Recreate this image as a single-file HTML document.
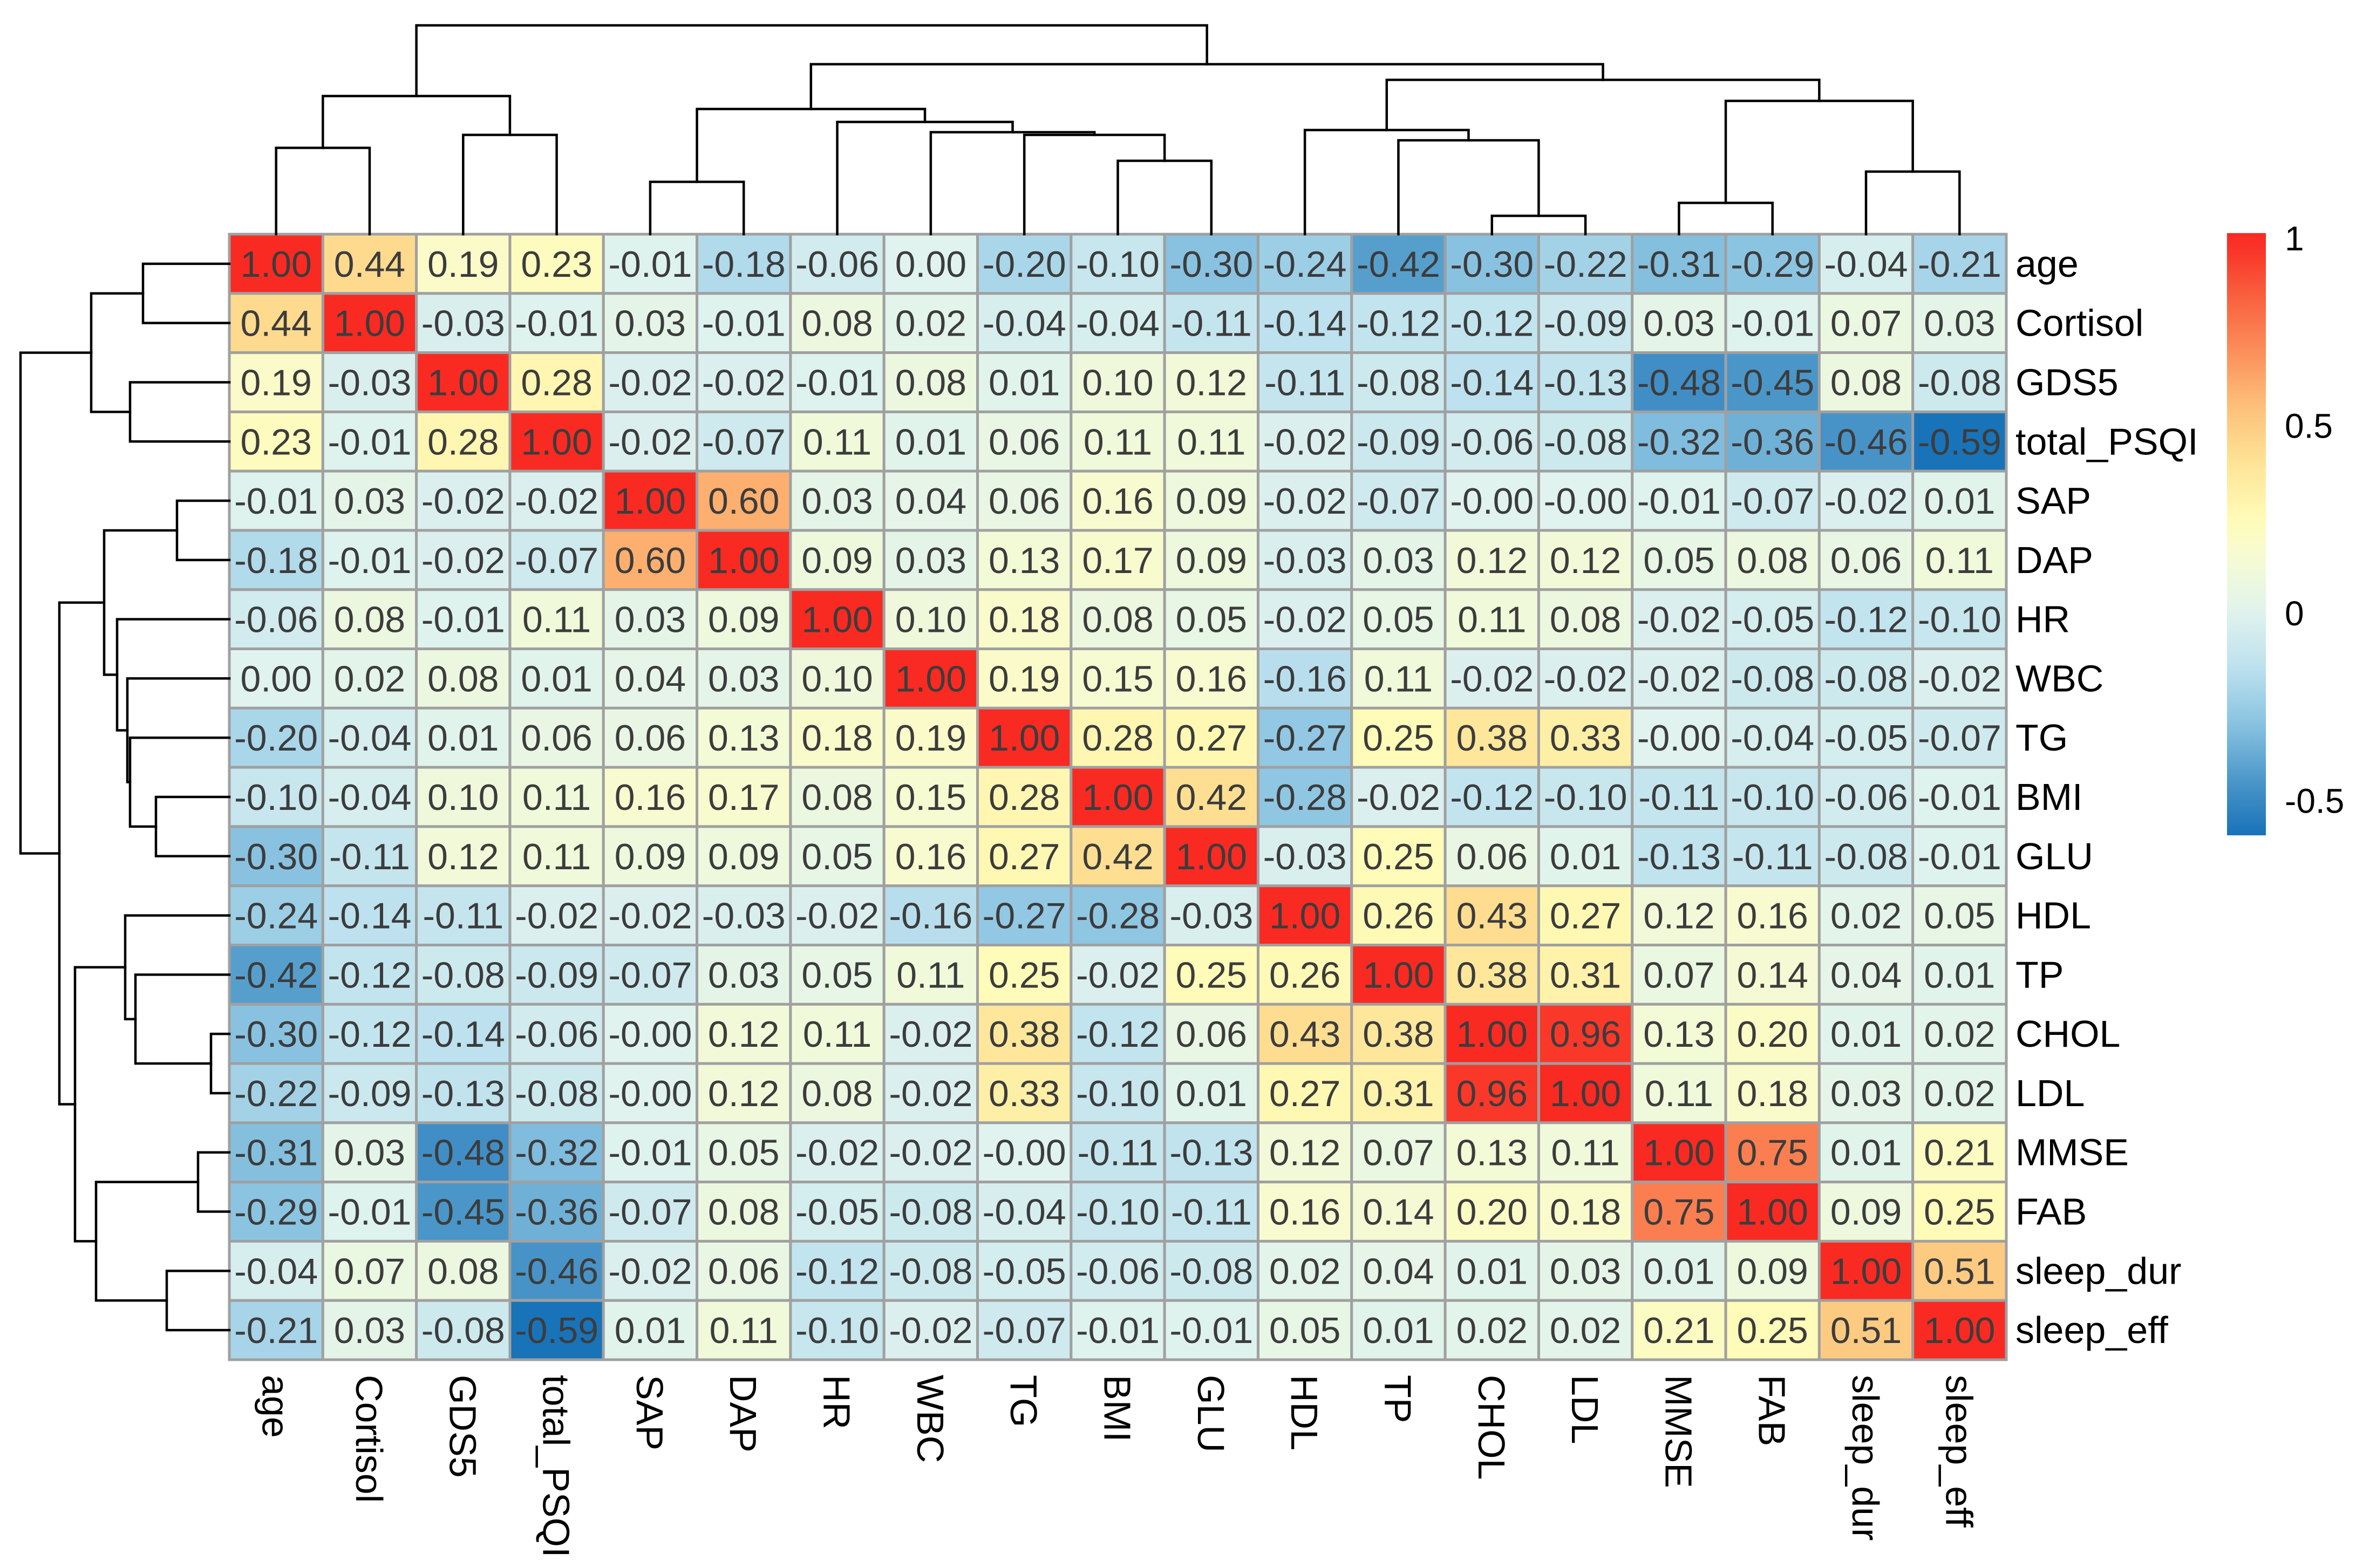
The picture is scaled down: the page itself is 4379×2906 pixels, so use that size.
<!DOCTYPE html>
<html><head><meta charset="utf-8">
<style>
html,body{margin:0;padding:0;background:#fff;}
svg{display:block;}
text{font-family:"Liberation Sans",Arial,sans-serif;}
</style></head>
<body>
<svg id="chart" width="4379" height="2906" viewBox="0 0 4379 2906" xmlns="http://www.w3.org/2000/svg">
<defs>
<linearGradient id="legGrad" x1="0" y1="1" x2="0" y2="0"></linearGradient>
</defs>
<g id="cells"></g>
<g id="dendTop"></g>
<g id="dendLeft"></g>
<g id="rowLabels"></g>
<g id="colLabels"></g>
<g id="legend"></g>
</svg>
<script>
const labels = ["age","Cortisol","GDS5","total_PSQI","SAP","DAP","HR","WBC","TG","BMI","GLU","HDL","TP","CHOL","LDL","MMSE","FAB","sleep_dur","sleep_eff"];
const rowAge = [1.00,0.44,0.19,0.23,-0.01,-0.18,-0.06,0.00,-0.20,-0.10,-0.30,-0.24,-0.42,-0.30,-0.22,-0.31,-0.29,-0.04,-0.21];
const rowCortisol = [0.44,1.00,-0.03,-0.01,0.03,-0.01,0.08,0.02,-0.04,-0.04,-0.11,-0.14,-0.12,-0.12,-0.09,0.03,-0.01,0.07,0.03];
const rowGDS5 = [0.19,-0.03,1.00,0.28,-0.02,-0.02,-0.01,0.08,0.01,0.10,0.12,-0.11,-0.08,-0.14,-0.13,-0.48,-0.45,0.08,-0.08];
const rowPSQI = [0.23,-0.01,0.28,1.00,-0.02,-0.07,0.11,0.01,0.06,0.11,0.11,-0.02,-0.09,-0.06,-0.08,-0.32,-0.36,-0.46,-0.59];
const rowSAP = [-0.01,0.03,-0.02,-0.02,1.00,0.60,0.03,0.04,0.06,0.16,0.09,-0.02,-0.07,-0,-0,-0.01,-0.07,-0.02,0.01];
const rowDAP = [-0.18,-0.01,-0.02,-0.07,0.60,1.00,0.09,0.03,0.13,0.17,0.09,-0.03,0.03,0.12,0.12,0.05,0.08,0.06,0.11];
const rowHR = [-0.06,0.08,-0.01,0.11,0.03,0.09,1.00,0.10,0.18,0.08,0.05,-0.02,0.05,0.11,0.08,-0.02,-0.05,-0.12,-0.10];
const rowWBC = [0.00,0.02,0.08,0.01,0.04,0.03,0.10,1.00,0.19,0.15,0.16,-0.16,0.11,-0.02,-0.02,-0.02,-0.08,-0.08,-0.02];
const rowTG = [-0.20,-0.04,0.01,0.06,0.06,0.13,0.18,0.19,1.00,0.28,0.27,-0.27,0.25,0.38,0.33,-0,-0.04,-0.05,-0.07];
const rowBMI = [-0.10,-0.04,0.10,0.11,0.16,0.17,0.08,0.15,0.28,1.00,0.42,-0.28,-0.02,-0.12,-0.10,-0.11,-0.10,-0.06,-0.01];
const rowGLU = [-0.30,-0.11,0.12,0.11,0.09,0.09,0.05,0.16,0.27,0.42,1.00,-0.03,0.25,0.06,0.01,-0.13,-0.11,-0.08,-0.01];
const rowHDL = [-0.24,-0.14,-0.11,-0.02,-0.02,-0.03,-0.02,-0.16,-0.27,-0.28,-0.03,1.00,0.26,0.43,0.27,0.12,0.16,0.02,0.05];
const rowTP = [-0.42,-0.12,-0.08,-0.09,-0.07,0.03,0.05,0.11,0.25,-0.02,0.25,0.26,1.00,0.38,0.31,0.07,0.14,0.04,0.01];
const rowCHOL = [-0.30,-0.12,-0.14,-0.06,-0,0.12,0.11,-0.02,0.38,-0.12,0.06,0.43,0.38,1.00,0.96,0.13,0.20,0.01,0.02];
const rowLDL = [-0.22,-0.09,-0.13,-0.08,-0,0.12,0.08,-0.02,0.33,-0.10,0.01,0.27,0.31,0.96,1.00,0.11,0.18,0.03,0.02];
const rowMMSE = [-0.31,0.03,-0.48,-0.32,-0.01,0.05,-0.02,-0.02,-0,-0.11,-0.13,0.12,0.07,0.13,0.11,1.00,0.75,0.01,0.21];
const rowFAB = [-0.29,-0.01,-0.45,-0.36,-0.07,0.08,-0.05,-0.08,-0.04,-0.10,-0.11,0.16,0.14,0.20,0.18,0.75,1.00,0.09,0.25];
const rowSleepDur = [-0.04,0.07,0.08,-0.46,-0.02,0.06,-0.12,-0.08,-0.05,-0.06,-0.08,0.02,0.04,0.01,0.03,0.01,0.09,1.00,0.51];
const rowSleepEff = [-0.21,0.03,-0.08,-0.59,0.01,0.11,-0.10,-0.02,-0.07,-0.01,-0.01,0.05,0.01,0.02,0.02,0.21,0.25,0.51,1.00];
const legendTicks = [1, 0.5, 0, -0.5];
const legendTickLabels = ["1","0.5","0","-0.5"];
// hierarchical clustering merges (negative = leaf -(index+1), positive = merge number)
const mergeA = [-1,-3,1,-5,-10,-9,-8,-7,4,-14,-13,-12,-16,-18,13,12,9,3];
const mergeB = [-2,-4,2,-6,-11,5,6,7,8,-15,10,11,-17,-19,14,15,16,17];
const mergeHeight = [160,184,256,97,136,184,189,208,232,34,174,193,58,116,247,286,315,387];

const matrix = [rowAge,rowCortisol,rowGDS5,rowPSQI,rowSAP,rowDAP,rowHR,rowWBC,rowTG,rowBMI,rowGLU,rowHDL,rowTP,rowCHOL,rowLDL,rowMMSE,rowFAB,rowSleepDur,rowSleepEff];

const NS = "http://www.w3.org/2000/svg";
const X0 = 425, X1 = 3718, Y0 = 434, Y1 = 2520;
const n = labels.length;
const cw = (X1 - X0) / n, ch = (Y1 - Y0) / n;
const colX = i => X0 + cw * i;
const rowY = i => Y0 + ch * i;
const colC = i => X0 + cw * (i + 0.5);
const rowC = i => Y0 + ch * (i + 0.5);

const stops = [[-0.6,[22,112,184]],[-0.45,[74,150,200]],[-0.3,[136,194,224]],[-0.15,[187,224,238]],[0,[224,243,238]],[0.15,[246,251,210]],[0.25,[255,251,184]],[0.4,[254,228,150]],[0.55,[253,192,122]],[0.7,[251,142,90]],[0.85,[249,94,60]],[1.0,[249,42,34]]];
function color(v){
  if(v<=stops[0][0]) return rgb(stops[0][1]);
  for(let k=1;k<stops.length;k++){
    if(v<=stops[k][0]){
      const a=stops[k-1],b=stops[k];const t=(v-a[0])/(b[0]-a[0]);
      return rgb(a[1].map((c,j)=>c+(b[1][j]-c)*t));
    }
  }
  return rgb(stops[stops.length-1][1]);
}
function rgb(c){return "rgb("+c.map(x=>Math.round(x)).join(",")+")";}
function fmt(v){return ((v<0||Object.is(v,-0))?"-":"")+Math.abs(v).toFixed(2);}
function mk(tag,attrs,parent){const e=document.createElementNS(NS,tag);for(const k in attrs)e.setAttribute(k,attrs[k]);parent.appendChild(e);return e;}

const gCells=document.getElementById("cells");
for(let r=0;r<n;r++){
  for(let c=0;c<n;c++){
    const v=matrix[r][c];
    const rect=mk("rect",{x:colX(c),y:rowY(r),width:cw,height:ch,fill:color(v),stroke:"#a0a0a0","stroke-width":5},gCells);
    
    
    const t=mk("text",{x:colC(c),y:rowC(r)+24,"text-anchor":"middle","font-size":68,fill:"#3c3c3c"},gCells);
    
    
    t.textContent=fmt(v);
  }
}

const gRow=document.getElementById("rowLabels");
const gCol=document.getElementById("colLabels");
for(let i=0;i<n;i++){
  const t=mk("text",{x:3735,y:rowC(i)+24,"font-size":70,fill:"#000"},gRow);
  
  
  t.textContent=labels[i];
  const cx=colC(i);
  const t2=mk("text",{x:0,y:0,"font-size":70,fill:"#000",transform:"translate("+(cx-25)+",2548) rotate(90)"},gCol);
  
  
  t2.textContent=labels[i];
}

// dendrograms
function buildTree(){
  const pos=[],h=[];
  for(let m=0;m<mergeA.length;m++){
    const a=mergeA[m],b=mergeB[m];
    const pa=a<0?(-a-1):pos[a-1], pb=b<0?(-b-1):pos[b-1];
    pos.push((pa+pb)/2);
    h.push(mergeHeight[m]);
  }
  return {pos,h};
}
const tree=buildTree();
function childInfo(idx){
  if(idx<0) return {p:-idx-1,h:0};
  return {p:tree.pos[idx-1],h:tree.h[idx-1]};
}
const gTop=document.getElementById("dendTop");
const gLeft=document.getElementById("dendLeft");
const posX = p => X0 + cw*(p+0.5);
const posY = p => Y0 + ch*(p+0.5);
const hTop = h => Y0 - h;
const hLeft = h => X0 - h;
for(let m=0;m<mergeA.length;m++){
  const A=childInfo(mergeA[m]),B=childInfo(mergeB[m]),H=mergeHeight[m];
  const d1="M"+posX(A.p)+","+hTop(A.h)+"V"+hTop(H)+"H"+posX(B.p)+"V"+hTop(B.h);
  const p1=mk("path",{d:d1,fill:"none",stroke:"#000","stroke-width":4.5,"stroke-linejoin":"miter","stroke-linecap":"square"},gTop);
  
  
  const d2="M"+hLeft(A.h)+","+posY(A.p)+"H"+hLeft(H)+"V"+posY(B.p)+"H"+hLeft(B.h);
  const p2=mk("path",{d:d2,fill:"none",stroke:"#000","stroke-width":4.5,"stroke-linejoin":"miter","stroke-linecap":"square"},gLeft);
  
  
}

// legend
const grad=document.getElementById("legGrad");
const LMIN=-0.593, LMAX=1.013;
for(let k=0;k<=40;k++){
  const v=LMIN+(LMAX-LMIN)*k/40;
  mk("stop",{offset:(k/40*100)+"%","stop-color":color(v)},grad);
}
const gLeg=document.getElementById("legend");
const legY = v => 1136 - (v)*695;
const bar=mk("rect",{x:4127,y:legY(LMAX),width:72,height:legY(LMIN)-legY(LMAX),fill:"url(#legGrad)"},gLeg);


for(let k=0;k<legendTicks.length;k++){
  const t=mk("text",{x:4234,y:legY(legendTicks[k])+23,"font-size":64,fill:"#000"},gLeg);
  
  
  t.textContent=legendTickLabels[k];
}
</script>
</body></html>
